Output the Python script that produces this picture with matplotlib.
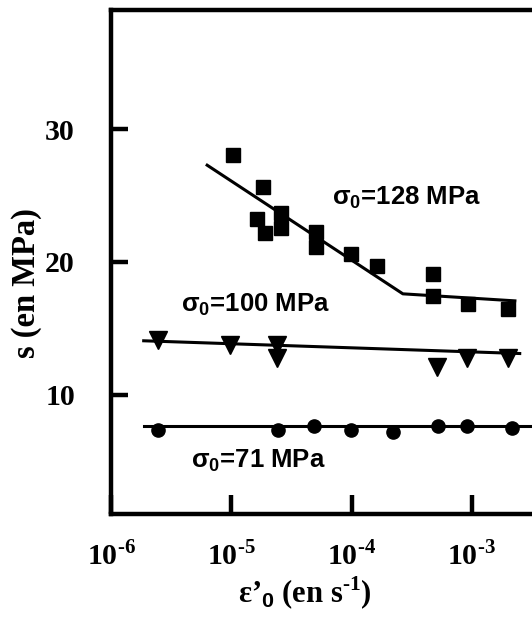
import numpy as np
import matplotlib
matplotlib.use("Agg")
import matplotlib.pyplot as plt

plt.rcParams['font.family'] = ['Liberation Serif', 'DejaVu Serif']
plt.rcParams['font.weight'] = 'bold'
plt.rcParams['mathtext.fontset'] = 'custom'
plt.rcParams['mathtext.rm'] = 'Liberation Serif:bold'
plt.rcParams['mathtext.bf'] = 'Liberation Serif:bold'
plt.rcParams['mathtext.sf'] = 'Liberation Sans:bold'

# sigma0 = 128 MPa (squares)
rate_128 = [1.03e-5, 1.84e-5, 1.64e-5, 1.9e-5, 2.59e-5, 2.59e-5, 5.06e-5, 5.06e-5,
            9.9e-5, 1.63e-4, 4.75e-4, 4.75e-4, 9.3e-4, 2.0e-3]
s_128 = [28.05, 25.64, 23.23, 22.18, 23.68, 22.56, 22.26, 21.13,
         20.6, 19.7, 19.1, 17.44, 16.84, 16.47]
fit_rate_128 = [6.3e-6, 2.67e-4, 2.28e-3]
fit_s_128 = [27.3, 17.6, 17.07]

# sigma0 = 100 MPa (triangles)
rate_100 = [2.45e-6, 9.8e-6, 2.4e-5, 2.4e-5, 5.1e-4, 9.1e-4, 2.0e-3]
s_100 = [14.1, 13.76, 13.76, 12.78, 12.1, 12.78, 12.78]
fit_rate_100 = [1.87e-6, 2.5e-3]
fit_s_100 = [14.06, 13.1]

# sigma0 = 71 MPa (circles)
rate_71 = [2.45e-6, 2.44e-5, 4.86e-5, 9.9e-5, 2.21e-4, 5.2e-4, 9.1e-4, 2.15e-3]
s_71 = [7.37, 7.37, 7.6, 7.3, 7.22, 7.6, 7.6, 7.52]
fit_rate_71 = [1.87e-6, 3.2e-3]
fit_s_71 = [7.62, 7.62]

xticks = [1e-6, 1e-5, 1e-4, 1e-3]
xticklabels = [r'$\mathbf{10}^{\text{-6}}$', r'$\mathbf{10}^{\text{-5}}$',
               r'$\mathbf{10}^{\text{-4}}$', r'$\mathbf{10}^{\text{-3}}$']
yticks = [10, 20, 30]

fig = plt.figure(figsize=(5.32, 6.17), dpi=100)
ax = fig.add_axes([111/532, 103/617, 1 - 111/532, 504/617])

ax.plot(fit_rate_128, fit_s_128, color='black', lw=2.2)
ax.plot(fit_rate_100, fit_s_100, color='black', lw=2.2)
ax.plot(fit_rate_71, fit_s_71, color='black', lw=2.2)
ax.plot(rate_128, s_128, 's', color='black', ms=10, clip_on=False)
ax.plot(rate_100, s_100, 'v', color='black', ms=12.5, clip_on=False)
ax.plot(rate_71, s_71, 'o', color='black', ms=9.5, clip_on=False)

sans = dict(family=['Liberation Sans', 'DejaVu Sans'], fontsize=18.5, fontweight='bold', va='baseline')
ax.text(6.9e-5, 24.3, r'σ$_\mathsf{0}$=128 MPa', **sans)
ax.text(3.85e-6, 16.24, r'σ$_\mathsf{0}$=100 MPa', **sans)
ax.text(4.6e-6, 4.51, r'σ$_\mathsf{0}$=71 MPa', **sans)

ax.set_xscale('log')
ax.set_xlim(1e-6, 10 ** -2.5)
ax.set_ylim(1, 39)
ax.set_xticks(xticks)
ax.set_xticklabels(xticklabels)
ax.minorticks_off()
ax.set_yticks(yticks)
ax.set_yticklabels([str(v) for v in yticks])

for side in ['left', 'top', 'bottom']:
    ax.spines[side].set_linewidth(3.2)
ax.spines['right'].set_visible(False)

ax.tick_params(axis='y', direction='in', length=12, width=3.2, labelsize=21.5, pad=26)
ax.tick_params(axis='x', direction='in', length=14, width=3.2, labelsize=21.5, pad=19)

ax.set_ylabel('s (en MPa)', fontsize=23.5, fontweight='bold')
ax.yaxis.set_label_coords(-0.164, 0.458)
ax.set_xlabel(r'ε’$_\mathsf{0}$ (en s$^{\text{-1}}$)', fontsize=22, fontweight='bold')
ax.xaxis.set_label_coords(0.461, -0.121)

fig.savefig('out.png', dpi=100)
